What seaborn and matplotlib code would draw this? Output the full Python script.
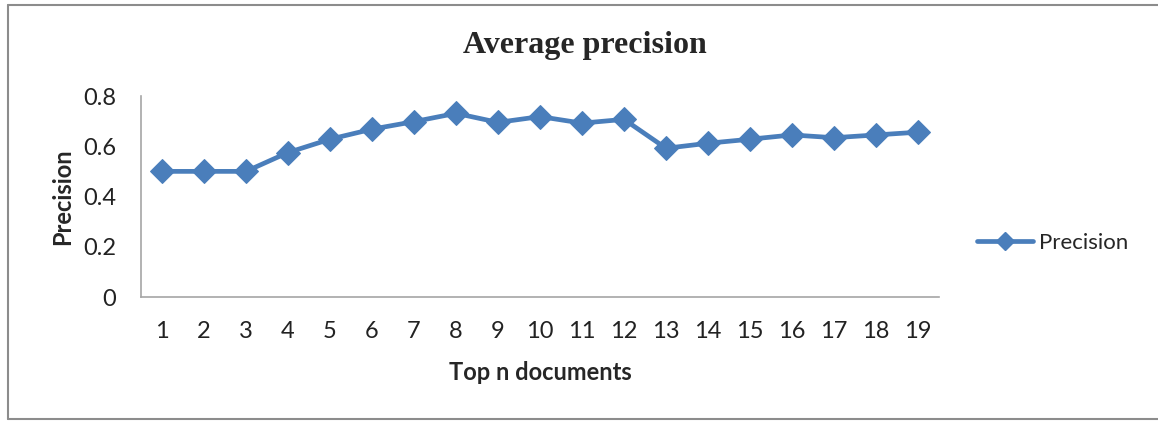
import matplotlib
matplotlib.use("Agg")
import matplotlib.pyplot as plt
import pandas as pd
import seaborn as sns
from matplotlib.lines import Line2D

# Values
top_n = [str(i) for i in range(1, 20)]
precision = [0.50, 0.50, 0.50, 0.575, 0.628, 0.668, 0.698, 0.731, 0.695, 0.718,
             0.692, 0.707, 0.592, 0.612, 0.628, 0.645, 0.634, 0.645, 0.656]
y_ticks = [0, 0.2, 0.4, 0.6, 0.8]
y_tick_labels = ["0", "0.2", "0.4", "0.6", "0.8"]

BLUE = "#4a7ebb"

sns.set_theme(style="white")
plt.rcParams["font.family"] = ["Lato", "DejaVu Sans"]

df = pd.DataFrame({"n": top_n, "precision": precision})

fig = plt.figure(figsize=(11.58, 4.21), dpi=100)
ax = fig.add_axes([141 / 1158, 1 - 297 / 421, (939 - 141) / 1158, (297 - 96) / 421])

sns.lineplot(data=df, x="n", y="precision", ax=ax, color=BLUE, lw=3.4,
             marker="D", markersize=12, markeredgecolor=BLUE, sort=False,
             label="Precision", legend=False)

ax.set_xlim(-0.5, len(top_n) - 0.5)
ax.set_ylim(0, 0.8)
ax.set_yticks(y_ticks)
ax.set_yticklabels(y_tick_labels)
ax.tick_params(axis="both", length=0, labelsize=17, colors="#222222")
ax.tick_params(axis="y", pad=18)
ax.tick_params(axis="x", pad=17)

for side in ["top", "right"]:
    ax.spines[side].set_visible(False)
for side in ["left", "bottom"]:
    ax.spines[side].set_color("#a6a6a6")
    ax.spines[side].set_linewidth(1.2)

ax.set_xlabel("Top n documents", fontsize=17, fontweight="bold", labelpad=14)
ax.set_ylabel("Precision", fontsize=17, fontweight="bold", labelpad=6)

fig.text(585 / 1158, 1 - 45 / 421, "Average precision", ha="center", va="center",
         fontsize=23, fontweight="bold", family="Liberation Serif")

handle = Line2D([], [], color=BLUE, lw=3.4, marker="D", markersize=9)
fig.legend(handles=[handle], labels=["Precision"], loc="center left",
           bbox_to_anchor=(977 / 1158, 1 - 243 / 421), frameon=False,
           borderaxespad=0, borderpad=0,
           fontsize=16, handlelength=2.5, handletextpad=0.3)

# outer chart frame
frame = dict(color="#8c8c8c", lw=1.5, transform=fig.transFigure)
fig.add_artist(Line2D([8 / 1158, 8 / 1158], [1 - 5 / 421, 1 - 419 / 421], **frame))
fig.add_artist(Line2D([8 / 1158, 1], [1 - 5 / 421, 1 - 5 / 421], **frame))
fig.add_artist(Line2D([8 / 1158, 1], [1 - 419 / 421, 1 - 419 / 421], **frame))

fig.savefig("out.png", dpi=100)
